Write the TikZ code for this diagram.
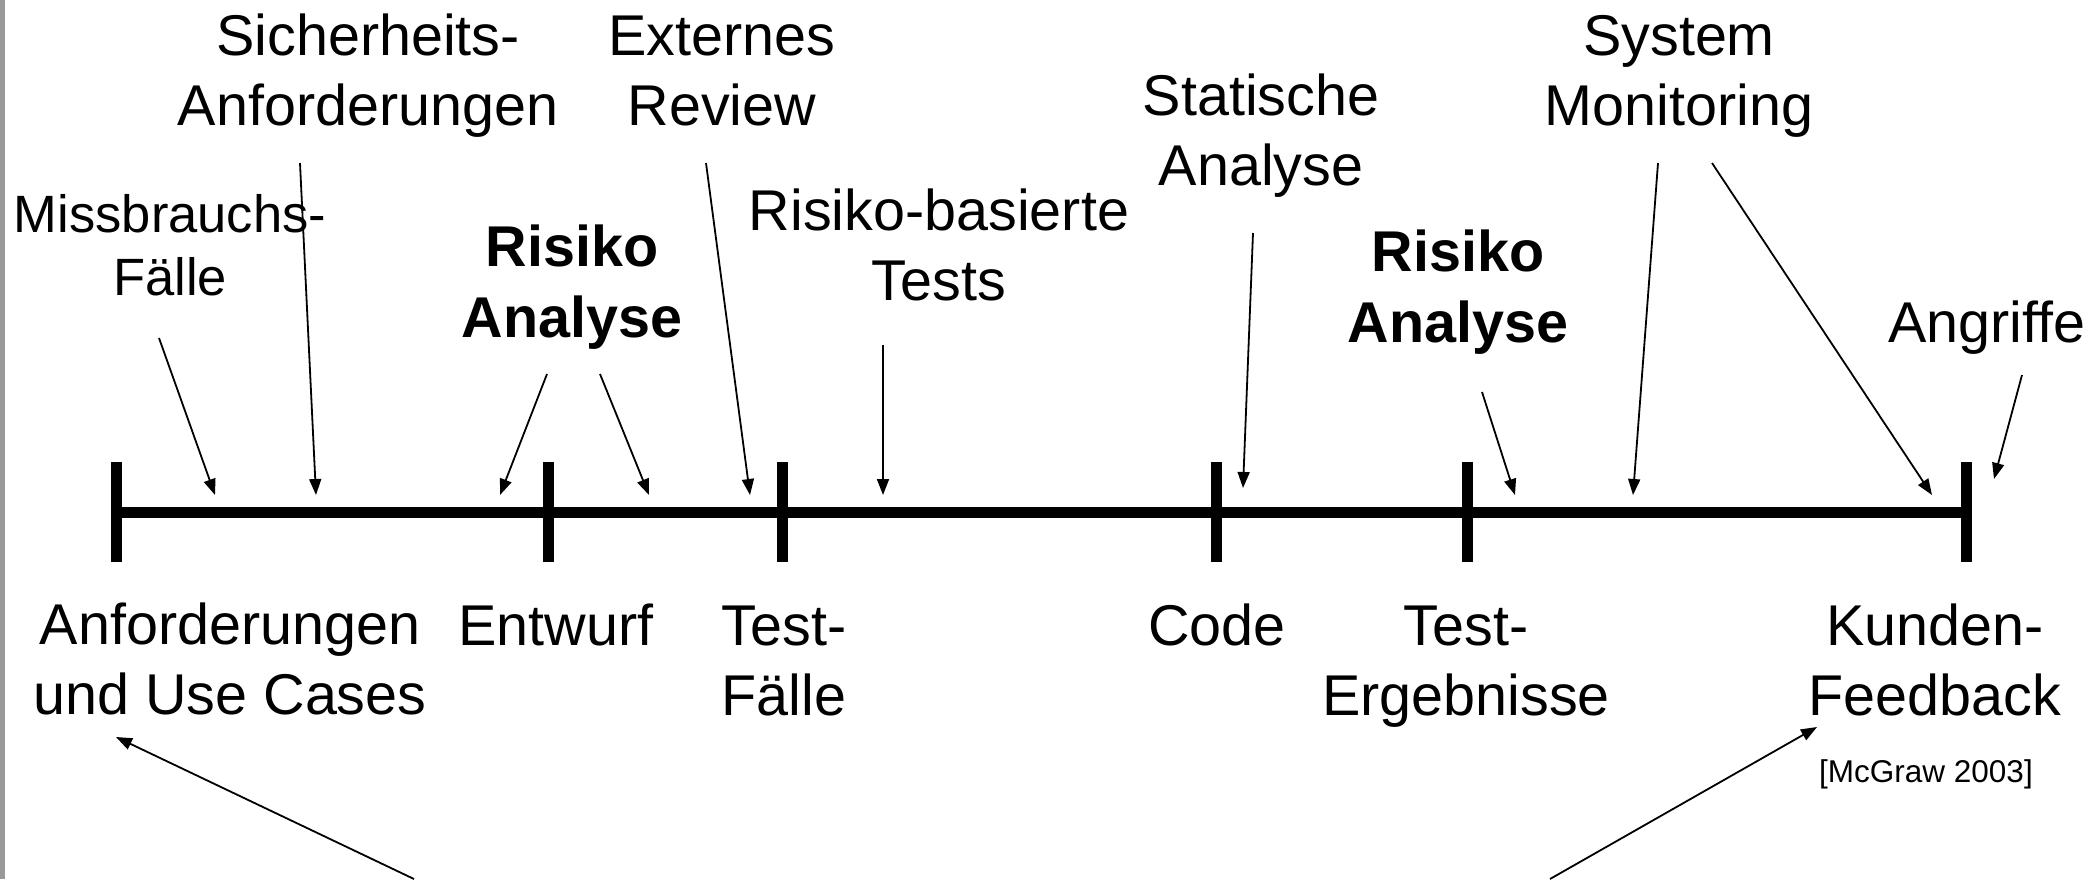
\documentclass[tikz,border=0pt]{standalone}
\usepackage{fontspec}
\setmainfont{Liberation Sans}
\usetikzlibrary{arrows.meta}
\begin{document}
\begin{tikzpicture}[x=1pt,y=-1pt,
  lbl/.style={anchor=base,inner sep=0pt,align=center,font=\fontsize{57.5}{70}\selectfont},
  lblsmall/.style={lbl,font=\fontsize{52.5}{63}\selectfont},
  lblbold/.style={lbl,font=\fontsize{57.5}{71}\selectfont\bfseries},
  cite/.style={anchor=base,inner sep=0pt,font=\fontsize{31.5}{38}\selectfont},
  ptr/.style={line width=1.8pt,-{Triangle[length=16pt,width=12pt]}},
  axis/.style={line width=11pt},
  tickmark/.style={line width=11pt}]
\useasboundingbox (0,0) rectangle (2097,879);
% page edge rule
\fill[gray!80] (0,0) rectangle (5,879);

% timeline and phase ticks
\coordinate (t1) at (116,512);
\coordinate (t2) at (548,512);
\coordinate (t3) at (782,512);
\coordinate (t4) at (1216,512);
\coordinate (t5) at (1467,512);
\coordinate (t6) at (1966,512);
\draw[axis] (t1) -- (t6);
\foreach \t in {t1,t2,t3,t4,t5,t6}
  \draw[tickmark] (\t) ++(0,-50) -- ++(0,100);

% activities above the timeline (positions give the last baseline)
\node[lbl]      (sich) at (368,125) {Sicherheits-\\Anforderungen};
\node[lbl]      (ext)  at (722,125) {Externes\\Review};
\node[lblsmall] (miss) at (170,295) {Missbrauchs-\\Fälle};
\node[lblbold]  (rl)   at (572,337) {Risiko\\Analyse};
\node[lbl]      (rbt)  at (939,300) {Risiko-basierte\\Tests};
\node[lbl]      (stat) at (1261,185){Statische\\Analyse};
\node[lblbold]  (rr)   at (1458,342){Risiko\\Analyse};
\node[lbl]      (sys)  at (1679,125){System\\Monitoring};
\node[lbl]      (ang)  at (1987,342){Angriffe};

% artefacts below the timeline
\node[lbl] (anf)  at (230,714)  {Anforderungen\\und Use Cases};
\node[lbl] (entw) at (556,645)  {Entwurf};
\node[lbl] (tf)   at (784,715)  {Test-\\Fälle};
\node[lbl] (code) at (1217,645) {Code};
\node[lbl] (ter)  at (1466,715) {Test-\\Ergebnisse};
\node[lbl] (kfb)  at (1935,715) {Kunden-\\Feedback};
\node[cite] (src) at (1926,782) {[McGraw 2003]};

% arrow end points
\coordinate (miss-s) at (159,338);  \coordinate (miss-e) at (215,495);
\coordinate (sich-s) at (300,163);  \coordinate (sich-e) at (316,495);
\coordinate (rl1-s)  at (547,374);  \coordinate (rl1-e)  at (500,495);
\coordinate (rl2-s)  at (600,374);  \coordinate (rl2-e)  at (649,495);
\coordinate (ext-s)  at (706,163);  \coordinate (ext-e)  at (750,495);
\coordinate (rbt-s)  at (883,345);  \coordinate (rbt-e)  at (883,495);
\coordinate (stat-s) at (1253,233); \coordinate (stat-e) at (1243,488);
\coordinate (rr-s)   at (1482,392); \coordinate (rr-e)   at (1515,495);
\coordinate (sys1-s) at (1658,163); \coordinate (sys1-e) at (1633,495);
\coordinate (sys2-s) at (1712,163); \coordinate (sys2-e) at (1932,495);
\coordinate (ang-s)  at (2022,375); \coordinate (ang-e)  at (1994,479);
\coordinate (fb1-s)  at (414,879);  \coordinate (fb1-e)  at (116,737);
\coordinate (fb2-s)  at (1550,879); \coordinate (fb2-e)  at (1817,727);

\foreach \a in {miss,sich,rl1,rl2,ext,rbt,stat,rr,sys1,sys2,ang,fb1,fb2}
  \draw[ptr] (\a-s) -- (\a-e);
\end{tikzpicture}
\end{document}
